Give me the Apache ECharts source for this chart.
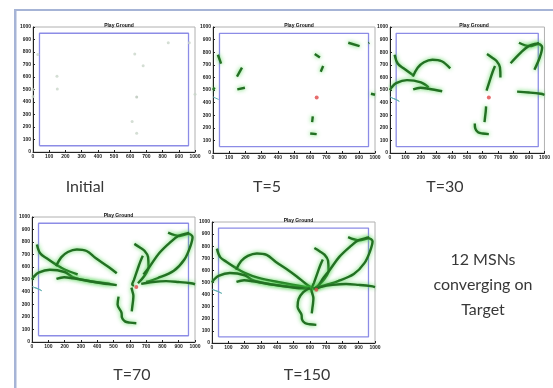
<!DOCTYPE html>
<html>
<head>
<meta charset="UTF-8">
<title>12 MSNs converging on Target</title>
<style>
  * { margin:0; padding:0; }
  body { background:#fff; }
  #chart { width:553px; height:388px; }
</style>
<script src="https://cdn.jsdelivr.net/npm/echarts@6/dist/echarts.min.js"></script>
</head>
<body>
<div id="chart"></div>
<script>
// snapshot times of the five panels
const panelTimes = [0, 5, 30, 70, 150];
const panelLabels = ['Initial', 'T=5', 'T=30', 'T=70', 'T=150'];
const target = [640, 440];
// arena boundary (blue box)
const arena = [[40, 50], [960, 50], [960, 950], [40, 950], [40, 50]];

// MSN tracks: [t, x, y]
const msnA = [[0,30,780],[5,50,710],[15,90,670],[30,148,619],[50,200,580],[70,280,540],[100,420,500],[150,590,460]];
const msnB = [[0,148,606],[5,179,677],[12,220,720],[20,275,740],[26,335,728],[30,390,672],[50,470,600],[70,520,550],[110,575,490],[150,605,462]];
const msnC = [[0,0,500],[5,10,520],[12,40,555],[20,110,578],[26,200,560],[30,250,520],[50,340,490],[70,480,465],[100,570,455],[150,610,450]];
const msnD = [[0,0,445],[5,35,425],[10,60,410],[20,40,425],[30,15,435],[70,10,430]];
const msnE = [[0,150,505],[5,197,518],[15,250,510],[30,338,490],[50,430,470],[70,520,455],[100,580,450],[150,615,445]];
const msnF = [[0,628,785],[5,660,758],[12,690,730],[20,712,680],[30,715,600],[45,690,530],[70,650,470],[150,630,450]];
const msnG = [[0,680,690],[5,665,645],[15,650,590],[30,625,495],[50,615,460],[70,625,448],[150,620,445]];
const msnH = [[0,612,245],[5,616,290],[15,620,330],[30,622,370],[50,615,410],[70,610,435],[150,615,445]];
const msnI = [[0,640,150],[5,600,155],[12,570,165],[20,552,195],[30,549,235],[50,525,300],[70,531,363],[100,560,420],[150,600,455]];
const msnJ = [[0,835,875],[5,905,848],[12,960,865],[18,985,840],[24,970,760],[30,935,660],[45,870,570],[60,770,510],[70,700,480],[100,650,460],[150,625,452]];
const msnK = [[0,965,875],[5,960,872],[12,900,850],[20,850,800],[30,781,712],[50,720,600],[70,684,540],[100,650,470],[150,625,450]];
const msnL = [[0,1000,462],[5,975,470],[15,900,480],[30,823,487],[50,740,480],[70,670,465],[150,640,450]];

const tracks = [msnA, msnB, msnC, msnD, msnE, msnF, msnG, msnH, msnI, msnJ, msnK, msnL];
const stuck = [msnD];

const grids = [
  { left: 33,  top: 27,  width: 162, height: 125 },
  { left: 213, top: 27,  width: 162, height: 126 },
  { left: 390, top: 27,  width: 158, height: 126 },
  { left: 32,  top: 217, width: 163, height: 125 },
  { left: 212, top: 222, width: 163, height: 121 }
];
const labelPos = [[80,184],[262,184],[440,184],[127,372],[302,372]];

const chart = echarts.init(document.getElementById('chart'));

const xAxes = [], yAxes = [], series = [], titles = [];
const tickLabel = { fontSize: 5, fontWeight: 'bold', color: '#222', margin: 2, interval: 0,
  fontFamily: 'Liberation Sans', formatter: function (v) { return String(v); } };

grids.forEach(function (g, p) {
  g.show = true; g.borderColor = '#b0b0b0'; g.borderWidth = 1; g.backgroundColor = '#fff';
  xAxes.push({ gridIndex: p, type: 'value', min: 0, max: 1000, interval: 100,
    axisLine: { onZero: false, lineStyle: { color: '#222' } },
    axisTick: { inside: true, length: 2, lineStyle: { color: '#222' } },
    splitLine: { show: false }, axisLabel: tickLabel });
  yAxes.push({ gridIndex: p, type: 'value', min: 0, max: 1000, interval: 100,
    axisLine: { onZero: false, lineStyle: { color: '#222' } },
    axisTick: { inside: true, length: 2, lineStyle: { color: '#222' } },
    splitLine: { show: false }, axisLabel: tickLabel });

  titles.push({ text: 'Play Ground', left: g.left + g.width / 2, top: g.top - 9, textAlign: 'center',
    textStyle: { fontSize: 5, fontWeight: 'bold', color: '#111', fontFamily: 'Liberation Sans' } });
  titles.push({ text: panelLabels[p], left: labelPos[p][0], top: labelPos[p][1] - 10, textAlign: 'center',
    textStyle: { fontSize: 16, fontWeight: 'normal', color: '#383838', fontFamily: 'Lato' } });

  series.push({ type: 'line', xAxisIndex: p, yAxisIndex: p, data: arena, showSymbol: false, silent: true,
    lineStyle: { color: '#8c8ce6', width: 1.3 }, z: 1 });

  const T = panelTimes[p];
  if (T === 0) {
    series.push({ type: 'scatter', xAxisIndex: p, yAxisIndex: p, symbolSize: 3,
      data: tracks.map(function (tr) { return [tr[0][1], tr[0][2]]; }),
      itemStyle: { color: '#c9d6c9' }, z: 3 });
  } else {
    tracks.forEach(function (tr) {
      const pts = tr.filter(function (q) { return q[0] <= T; }).map(function (q) { return [q[1], q[2]]; });
      const isStuck = stuck.indexOf(tr) >= 0;
      series.push({ type: 'line', xAxisIndex: p, yAxisIndex: p, data: pts, showSymbol: false,
        smooth: 0.35, silent: true, z: 3,
        lineStyle: isStuck
          ? { color: '#5fb0b0', width: 1 }
          : { color: '#237023', width: 2.4, shadowColor: 'rgba(70,210,70,0.9)', shadowBlur: 4 } });
    });
  }
  series.push({ type: 'scatter', xAxisIndex: p, yAxisIndex: p, data: [target], symbolSize: T === 0 ? 3 : 4,
    itemStyle: { color: T === 0 ? '#b8c4b8' : '#e04848' }, z: 5 });
});

chart.setOption({
  animation: false,
  title: titles.concat([{ text: '12 MSNs\nconverging on\nTarget', left: 478, top: 242, textAlign: 'center',
    textStyle: { fontSize: 16, fontWeight: 'normal', color: '#383838', lineHeight: 25, fontFamily: 'Lato' } }]),
  grid: grids,
  xAxis: xAxes,
  yAxis: yAxes,
  series: series,
  graphic: [
    { type: 'rect', shape: { x: 14, y: 9, width: 539, height: 2 }, style: { fill: '#a6b4d6' } },
    { type: 'rect', shape: { x: 14, y: 9, width: 2.5, height: 379 }, style: { fill: '#a6b4d6' } }
  ]
});
</script>
</body>
</html>
